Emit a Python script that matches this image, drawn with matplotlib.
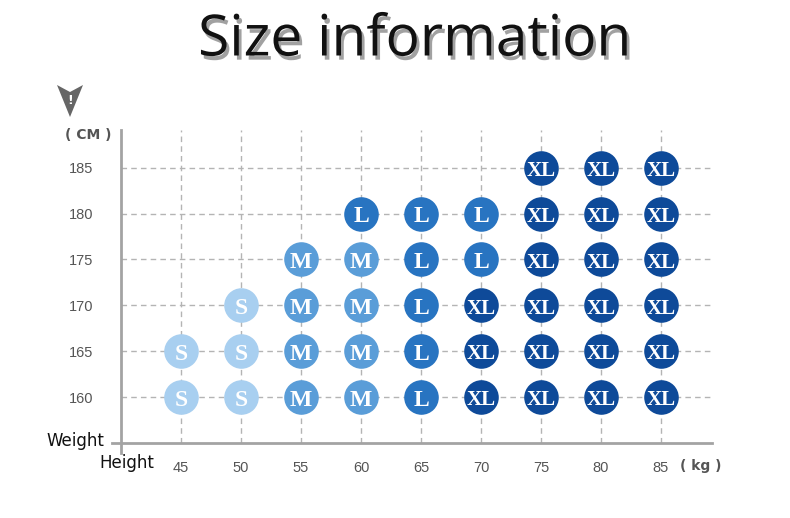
import matplotlib
matplotlib.use("Agg")
import matplotlib.pyplot as plt
import matplotlib.patheffects as pe
from matplotlib.patches import Polygon

weights = [45, 50, 55, 60, 65, 70, 75, 80, 85]
heights = [160, 165, 170, 175, 180, 185]
# size chart rows (height -> size per weight column, '' = none)
rows = {
    185: ['', '', '', '', '', '', 'XL', 'XL', 'XL'],
    180: ['', '', '', 'L', 'L', 'L', 'XL', 'XL', 'XL'],
    175: ['', '', 'M', 'M', 'L', 'L', 'XL', 'XL', 'XL'],
    170: ['', 'S', 'M', 'M', 'L', 'XL', 'XL', 'XL', 'XL'],
    165: ['S', 'S', 'M', 'M', 'L', 'XL', 'XL', 'XL', 'XL'],
    160: ['S', 'S', 'M', 'M', 'L', 'XL', 'XL', 'XL', 'XL'],
}
size_colors = {'S': '#a8cff0', 'M': '#5a9dd8', 'L': '#2874c1', 'XL': '#0e4a99'}

W, H = 790, 518
fig = plt.figure(figsize=(W / 100, H / 100), dpi=100, facecolor='white')
ax = fig.add_axes([121 / W, 1 - 443 / H, (712 - 121) / W, (443 - 130) / H])
ax.set_xlim(40, 89.25)
ax.set_ylim(155, 189.1)
ax.set_facecolor('white')

grid_kw = dict(color='#b4b4b4', lw=1.0, ls=(0, (4, 3)), zorder=1)
for w in weights:
    ax.axvline(w, **grid_kw)
for h in heights:
    ax.axhline(h, **grid_kw)

for h in heights:
    for w, s in zip(weights, rows[h]):
        if not s:
            continue
        ax.scatter([w], [h], s=620, color=size_colors[s], zorder=3, linewidths=0)
        ax.text(w, h - 0.35, s, ha='center', va='center', color='white',
                fontsize=17 if s != 'XL' else 15, fontweight='bold',
                family='Liberation Serif', zorder=4)

for sp in ['top', 'right', 'left', 'bottom']:
    ax.spines[sp].set_visible(False)
axis_col = '#a3a3a3'
ax.plot([40, 40], [189.1, 153.9], color=axis_col, lw=2, clip_on=False, zorder=2)
ax.plot([39.25, 89.25], [155, 155], color=axis_col, lw=2, clip_on=False, zorder=2)

ax.set_xticks(weights)
ax.set_yticks(heights)
ax.set_xticklabels([str(w) for w in weights], family='Liberation Sans')
ax.set_yticklabels([str(h) for h in heights], family='Liberation Sans')
ax.tick_params(axis='both', length=0, labelsize=10.5, colors='#555555')
ax.tick_params(axis='x', pad=13)
ax.tick_params(axis='y', pad=20)

fig.text(75 / W, 1 - 441 / H, 'Weight', ha='center', va='center', fontsize=12,
         color='#111111', family='DejaVu Sans')
fig.text(127 / W, 1 - 463 / H, 'Height', ha='center', va='center', fontsize=12,
         color='#111111', family='DejaVu Sans')
fig.text(88 / W, 1 - 135 / H, '( CM )', ha='center', va='center', fontsize=10,
         fontweight='bold', color='#555555', family='DejaVu Sans')
fig.text(701 / W, 1 - 466 / H, '( kg )', ha='center', va='center', fontsize=10,
         fontweight='bold', color='#555555', family='DejaVu Sans')

# title with shadow
fig.text(415 / W, 1 - 41 / H, 'Size information', ha='center', va='center',
         fontsize=41, color='#111111', family='Open Sans',
         path_effects=[pe.withSimplePatchShadow(offset=(2, -3), shadow_rgbFace='#444444', alpha=0.5)])

# warning arrow mark
arrow = Polygon([(57 / W, 1 - 85 / H), (70 / W, 1 - 92 / H), (83 / W, 1 - 85 / H),
                 (70 / W, 1 - 117 / H)], closed=True, transform=fig.transFigure,
                facecolor='#666666', edgecolor='none')
fig.patches.append(arrow)
fig.text(70 / W, 1 - 101 / H, '!', ha='center', va='center', fontsize=9,
         fontweight='bold', color='white', family='DejaVu Sans')

fig.savefig('out.png', dpi=100, facecolor='white')
